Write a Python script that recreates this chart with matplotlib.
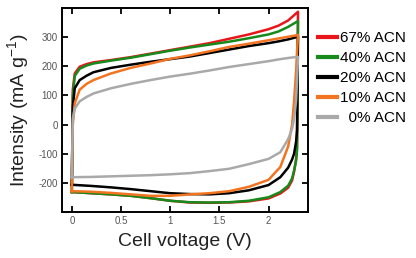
import numpy as np
import matplotlib
matplotlib.use("Agg")
import matplotlib.pyplot as plt
from matplotlib.lines import Line2D

plt.rcParams['font.family'] = ['Liberation Sans', 'DejaVu Sans']
plt.rcParams['mathtext.fontset'] = 'custom'
plt.rcParams['mathtext.rm'] = 'Liberation Sans'
plt.rcParams['mathtext.it'] = 'Liberation Sans'
plt.rcParams['axes.unicode_minus'] = False

### DATA ------------------------
labels = ['67% ACN', '40% ACN', '20% ACN', '10% ACN', '  0% ACN']
colors = ['#e8161b', '#178a1c', '#000000', '#f27320', '#a9a9a9']

# forward sweep (0 -> 2.3 V)
v_up = [0.0, 0.01, 0.03, 0.08, 0.15, 0.22, 0.4, 0.6, 0.8, 1.0, 1.2, 1.4, 1.6, 1.8, 2.0, 2.1, 2.2, 2.3]
i_up_67 = [-232, 120, 176, 199, 208, 214, 222, 232, 244, 256, 268, 280, 295, 310, 328, 340, 358, 388]
i_up_40 = [-232, 100, 167, 192, 203, 210, 220, 230, 242, 254, 265, 275, 285, 297, 310, 320, 336, 356]
i_up_20 = [-207, 60, 125, 153, 168, 180, 195, 206, 216, 225, 234, 246, 258, 270, 280, 286, 293, 302]
i_up_10 = [-229, 0, 73, 120, 140, 153, 176, 195, 210, 226, 238, 252, 267, 278, 290, 296, 302, 308]
i_up_0 = [-181, 20, 55, 80, 95, 107, 125, 140, 153, 165, 175, 186, 198, 208, 218, 224, 229, 233]

# reverse sweep (2.3 -> 0 V)
v_dn = [2.3, 2.29, 2.28, 2.26, 2.24, 2.2, 2.12, 2.0, 1.8, 1.6, 1.4, 1.2, 1.0, 0.8, 0.6, 0.4, 0.2, 0.0]
i_dn_67 = [388, -80, -120, -162, -192, -217, -237, -254, -264, -268, -269, -268, -262, -253, -245, -240, -236, -232]
i_dn_40 = [356, -89, -125, -158, -185, -210, -232, -250, -262, -267, -268, -267, -262, -253, -245, -240, -236, -232]
i_dn_20 = [302, -20, -60, -100, -120, -148, -181, -208, -226, -236, -240, -239, -236, -229, -222, -216, -211, -207]
i_dn_10 = [308, 250, 180, 80, 0, -75, -146, -190, -214, -229, -236, -240, -245, -245, -240, -235, -231, -229]
i_dn_0 = [233, 150, 80, 20, -15, -50, -95, -118, -136, -152, -160, -167, -171, -174, -176, -178, -180, -181]

ups = [i_up_67, i_up_40, i_up_20, i_up_10, i_up_0]
dns = [i_dn_67, i_dn_40, i_dn_20, i_dn_10, i_dn_0]

### PLOT ------------------------
fig = plt.figure(figsize=(4.16, 2.58), dpi=100)
ax = fig.add_axes([0.149, 0.179, 0.591, 0.789])

for up, dn, c in zip(ups, dns, colors):
    v = v_up + v_dn
    i = up + dn
    ax.plot(v, i, color=c, lw=1.8, solid_joinstyle='round')

ax.set_xlim(-0.1, 2.4)
ax.set_ylim(-300, 400)
ax.set_xticks([0, 0.5, 1, 1.5, 2])
ax.set_xticklabels(['0', '0.5', '1', '1.5', '2'])
ax.set_yticks([-200, -100, 0, 100, 200, 300])
ax.tick_params(direction='in', top=True, right=True, length=4, width=1.3,
               labelsize=7, labelcolor='#555555', pad=3)
for s in ax.spines.values():
    s.set_linewidth(1.4)

ax.set_xlabel('Cell voltage (V)', fontsize=14, color='#222222', labelpad=5)
ax.set_ylabel('Intensity (mA g$^{-1}$)', fontsize=14, color='#222222', labelpad=5)

handles = [Line2D([0], [0], color=c, lw=3) for c in colors]
fig.legend(handles, labels, loc='upper left', bbox_to_anchor=(0.765, 0.88),
           frameon=False, fontsize=11, handlelength=1.25, handletextpad=0.2,
           labelspacing=0.4, borderpad=0, borderaxespad=0)

fig.savefig('out.png', dpi=100)
